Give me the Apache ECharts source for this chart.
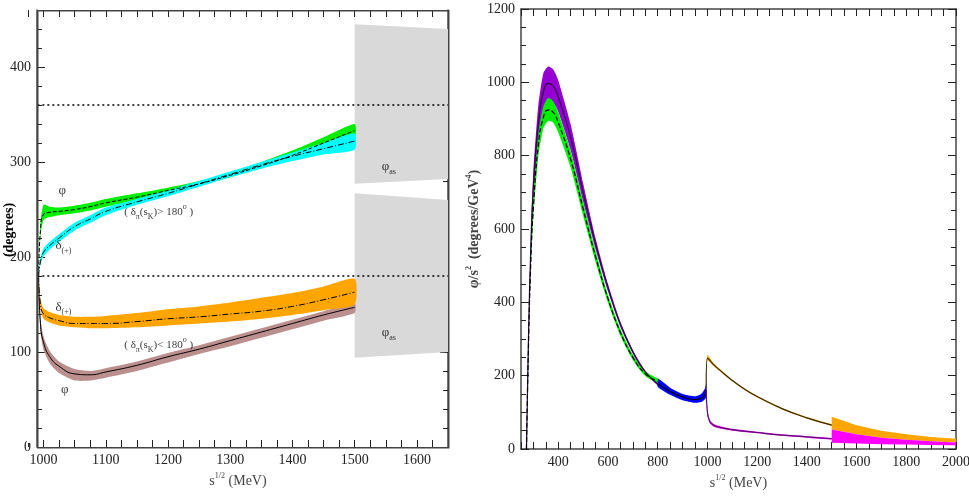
<!DOCTYPE html>
<html>
<head>
<meta charset="utf-8">
<script src="https://cdn.jsdelivr.net/npm/echarts@6/dist/echarts.min.js"></script>
<style>html,body{margin:0;padding:0;background:#fff}#c{width:969px;height:498px}</style>
</head>
<body>
<div id="c"></div>
<script>
// ---- left panel data (degrees vs sqrt(s) MeV)
var lx = [992, 995, 1000, 1010, 1025, 1050, 1075, 1100, 1150, 1200, 1250, 1300, 1350, 1400, 1450, 1500];
var phiHiC = [180, 228, 245, 247, 248, 250, 253, 257, 263, 270, 277, 286, 296, 307, 320, 333];
var phiHiLo = [180, 222, 239, 242, 244, 246, 249, 253, 260, 267, 275, 284, 294, 304, 315, 326];
var phiHiUp = [180, 236, 255, 253, 252, 254, 257, 261, 267, 273, 280, 289, 300, 312, 326, 340];
var dHiC = [180, 195, 205, 212, 220, 232, 240, 248, 258, 267, 277, 287, 297, 306, 314, 322];
var dHiLo = [180, 192, 201, 208, 216, 228, 236, 244, 255, 264, 274, 284, 293, 301, 308, 313];
var dHiUp = [180, 198, 209, 216, 224, 236, 244, 252, 261, 270, 280, 290, 300, 310, 320, 330];
var dLoC = [180, 150, 140, 136, 133, 130, 130, 130, 132, 135, 137, 140, 143, 148, 155, 163];
var dLoLo = [180, 145, 135, 131, 128, 126, 125, 125, 126, 128, 130, 132, 135, 139, 144, 150];
var dLoUp = [180, 156, 146, 142, 139, 137, 137, 138, 141, 145, 148, 152, 157, 162, 169, 177];
var phiLoC = [180, 130, 110, 95, 85, 77, 76, 79, 86, 95, 103, 112, 121, 130, 139, 147];
var phiLoLo = [180, 122, 102, 88, 78, 70, 70, 73, 80, 89, 98, 106, 115, 124, 133, 141];
var phiLoUp = [180, 136, 116, 101, 90, 82, 80, 83, 90, 99, 107, 116, 125, 134, 143, 151];
var asX = [1500, 1650];
var asTopUp = [445, 440], asTopLo = [277, 282];
var asBotUp = [267, 260], asBotLo = [94, 100];
var refLines = [360, 180];

// ---- right panel data (phi/s^2 vs sqrt(s) MeV)
var rx = [272, 280, 290, 300, 320, 340, 360, 380, 400, 450, 500, 550, 600, 650, 700, 750, 800];
var purC = [0, 300, 560, 720, 890, 975, 997, 990, 960, 850, 700, 560, 440, 340, 265, 210, 178];
var purLo = [0, 290, 530, 680, 840, 925, 950, 945, 920, 815, 675, 545, 430, 333, 260, 206, 174];
var purUp = [0, 310, 590, 760, 940, 1025, 1043, 1035, 1005, 885, 725, 575, 450, 347, 270, 214, 182];
var grnC = [0, 280, 520, 660, 830, 905, 925, 918, 890, 790, 655, 525, 410, 318, 250, 205, 185];
var grnLo = [0, 270, 500, 635, 800, 875, 895, 890, 863, 767, 636, 510, 399, 309, 243, 199, 180];
var grnUp = [0, 290, 540, 685, 860, 935, 958, 948, 918, 813, 674, 540, 421, 327, 257, 211, 192];
var bx = [800, 850, 900, 950, 975, 990, 995];
var bluC = [178, 157, 142, 135, 138, 148, 160];
var bluLo = [170, 148, 133, 126, 128, 136, 142];
var bluUp = [192, 167, 150, 144, 150, 165, 178];
var ux = [995, 1000, 1025, 1050, 1100, 1150, 1200, 1300, 1400, 1500];
var orC = [165, 248, 230, 215, 187, 163, 143, 110, 85, 65];
var orBandLo = [165, 242, 226, 212, 185, 161, 141, 108, 83, 63];
var orBandUp = [165, 256, 234, 218, 189, 165, 145, 112, 87, 67];
var mx = [995, 1000, 1010, 1025, 1050, 1100, 1200, 1300, 1400, 1500];
var magC = [165, 100, 75, 65, 59, 53, 45, 38, 33, 28];
var magBandLo = [150, 90, 70, 61, 56, 50, 43, 36, 31, 26];
var magBandUp = [175, 108, 79, 68, 62, 55, 47, 40, 35, 30];
var tx = [1500, 1600, 1700, 1800, 1900, 2000];
var orUp = [88, 65, 50, 40, 33, 28];
var magUp = [53, 40, 31, 25, 21, 18];
var magLo = [17, 15, 13, 12, 11, 10];

function zip(xs, ys) { return xs.map(function (x, i) { return [x, ys[i]]; }); }

function band(xs, lo, hi, color, ai, z, sm) {
    return {
        type: 'custom', xAxisIndex: ai * 2, yAxisIndex: ai, z: z || 2, silent: true,
        data: [[xs[0], lo[0]]],
        renderItem: function (params, api) {
            var pts = [];
            for (var i = 0; i < xs.length; i++) pts.push(api.coord([xs[i], hi[i]]));
            for (var j = xs.length - 1; j >= 0; j--) pts.push(api.coord([xs[j], lo[j]]));
            return { type: 'polygon', shape: { points: pts, smooth: sm === 0 ? 0 : 0.2 }, style: { fill: color } };
        }
    };
}
function line(xs, ys, type, ai, color, w) {
    return {
        type: 'line', xAxisIndex: ai * 2, yAxisIndex: ai, smooth: true, showSymbol: false, z: 5, silent: true,
        lineStyle: { color: color || '#000', width: w || 1, type: type },
        data: zip(xs, ys)
    };
}

var serif = 'Liberation Serif';
var rich = {
    n: { fontFamily: serif, fontSize: 13, color: '#000' },
    s: { fontFamily: serif, fontSize: 8, color: '#000', verticalAlign: 'bottom', padding: [0, 0, 10, 0] },
    b: { fontFamily: serif, fontSize: 8, color: '#000', padding: [10, 0, 0, 0] },
    t: { fontFamily: serif, fontSize: 11, color: '#000' }
};
var labelPos = [[1030, 270], [1032, 212], [1185, 247], [1032, 147], [1185, 107], [1034, 60], [1555, 295], [1555, 120]];
var labelText = [
    '{n|φ}', '{n|δ}{b|(+)}', '{t|( δ}{b|π}{t|(s}{b|K}{t|)> 180}{s|o}{t| )}',
    '{n|δ}{b|(+)}', '{t|( δ}{b|π}{t|(s}{b|K}{t|)< 180}{s|o}{t| )}',
    '{n|φ}', '{n|φ}{b|as}', '{n|φ}{b|as}'
];

var tickStyle = { color: '#222', width: 1 };
var frameStyle = { color: '#444', width: 1.5 };
function xAxes(min, max, iv, labelMin, gi, showLine) {
    var base = {
        type: 'value', gridIndex: gi, min: min, max: max, interval: iv,
        axisLine: { show: showLine, onZero: false, lineStyle: frameStyle },
        axisTick: { show: true, inside: true, length: 7, lineStyle: tickStyle },
        splitLine: { show: false }
    };
    return [Object.assign({}, base, {
        axisLabel: {
            fontFamily: serif, fontSize: 14, color: '#222', margin: 6,
            formatter: function (v) { return (v >= labelMin && v % (gi ? 200 : 100) === 0) ? String(v) : ''; }
        },
        name: '{n|s}{s|1/2}{n| (MeV)}', nameLocation: 'middle', nameGap: 24,
        nameTextStyle: { rich: { n: { fontFamily: serif, fontSize: 14 }, s: { fontFamily: serif, fontSize: 8, padding: [0, 0, 10, 0] } } }
    }), Object.assign({}, base, { position: 'top', axisLabel: { show: false } })];
}
function yAxis(max, iv, split, gi, name, gap, right, off) {
    return {
        type: 'value', gridIndex: gi, min: 0, max: max, interval: iv, position: right ? 'right' : 'left',
        offset: off || 0,
        axisLine: { show: true, onZero: false, lineStyle: frameStyle },
        axisTick: { show: true, inside: true, length: 8, lineStyle: tickStyle },
        minorTick: { show: true, splitNumber: split, length: 5, lineStyle: tickStyle },
        axisLabel: {
            show: !right, fontFamily: serif, fontSize: 14, color: '#222', margin: 6,
            formatter: function (v) { return v > 1200 || (gi === 0 && v > 400) ? '' : String(v); }
        },
        splitLine: { show: false },
        name: name, nameLocation: 'middle', nameGap: gap, nameRotate: 90,
        nameTextStyle: { rich: { n: { fontFamily: serif, fontSize: 14, fontWeight: 'bold' }, s: { fontFamily: serif, fontSize: 8, fontWeight: 'bold', padding: [0, 0, 10, 0] } } }
    };
}

var chart = echarts.init(document.getElementById('c'));
// left x axis starts at 975 (multiple of 25); the y axis is pulled in to sit at 990
var lxAx = xAxes(975, 1650, 25, 1000, 0, false);
var rxAx = xAxes(250, 2000, 50, 400, 1, true);
var series = [
    // left panel
    band(asX, asTopLo, asTopUp, '#d9d9d9', 0, 1, 0),
    band(asX, asBotLo, asBotUp, '#d9d9d9', 0, 1, 0),
    band(lx, phiHiLo, phiHiUp, '#00ee00', 0),
    band(lx, dHiLo, dHiUp, '#00ffff', 0, 3),
    band(lx, dLoLo, dLoUp, '#ffa500', 0, 3),
    band(lx, phiLoLo, phiLoUp, '#bc8f8f', 0),
    line(lx, phiHiC, 'dashed', 0),
    line(lx, dHiC, [6, 2, 1, 2], 0),
    line(lx, dLoC, [6, 2, 1, 2], 0),
    line(lx, phiLoC, 'solid', 0),
    {
        type: 'line', xAxisIndex: 0, yAxisIndex: 0, data: [], silent: true,
        markLine: {
            symbol: 'none', label: { show: false }, silent: true,
            lineStyle: { color: '#000', type: [2, 3], width: 1.5 },
            data: refLines.map(function (v) { return [{ coord: [990, v] }, { coord: [1650, v] }]; })
        }
    },
    {
        type: 'scatter', xAxisIndex: 0, yAxisIndex: 0, symbolSize: 0, silent: true, z: 10,
        data: labelPos.map(function (p, i) {
            return { value: p, label: { show: true, position: 'inside', formatter: labelText[i], rich: rich } };
        })
    },
    // right panel
    band(rx, purLo, purUp, '#9400d3', 1),
    band(rx, grnLo, grnUp, '#00ee00', 1, 3),
    band(bx, bluLo, bluUp, '#0000ff', 1),
    band(ux, orBandLo, orBandUp, '#ffa500', 1),
    band(mx, magBandLo, magBandUp, '#ff00ff', 1),
    band(tx, magUp, orUp, '#ffa500', 1, 2, 0),
    band(tx, magLo, magUp, '#ff00ff', 1, 2, 0),
    line(rx, purC, 'solid', 1, '#2a0a3a', 1.2),
    line(rx, grnC, 'dashed', 1, '#000', 1.2),
    line(bx, bluC, 'solid', 1, '#000', 1.2),
    line(ux, orC, 'solid', 1, '#3a2a00', 1.2),
    line(mx, magC, 'solid', 1, '#5a1070', 1.2)
];

chart.setOption({
    animation: false,
    grid: [
        { left: 28, top: 10, width: 420, height: 437, outerBoundsMode: 'none', containLabel: false },
        { left: 521, top: 9, width: 435, height: 440, outerBoundsMode: 'none', containLabel: false }
    ],
    graphic: [
        // left panel frame from the y axis position (990) to the right edge
        { type: 'rect', left: 37, top: 10, z: 100, silent: true, shape: { width: 411, height: 437 }, style: { fill: 'transparent', stroke: '#444', lineWidth: 1.5 } },
        { type: 'rect', left: 27, top: 440, z: 100, silent: true, shape: { width: 9, height: 3 }, style: { fill: '#fff' } },
        { type: 'text', x: 2, y: 230, rotation: Math.PI / 2, z: 100, silent: true, style: { text: '(degrees)', font: 'bold 14px "Liberation Serif"', fill: '#000', align: 'center', verticalAlign: 'top' } }
    ],
    xAxis: lxAx.concat(rxAx),
    yAxis: [
        yAxis(460, 100, 5, 0, '', 10, false, -9),
        yAxis(1200, 200, 4, 1, '{n|φ/s}{s|2}{n|  (degrees/GeV}{s|4}{n|)}', 38),
        yAxis(460, 100, 5, 0, '', 0, true),
        yAxis(1200, 200, 4, 1, '', 0, true)
    ],
    series: series
});
</script>
</body>
</html>
